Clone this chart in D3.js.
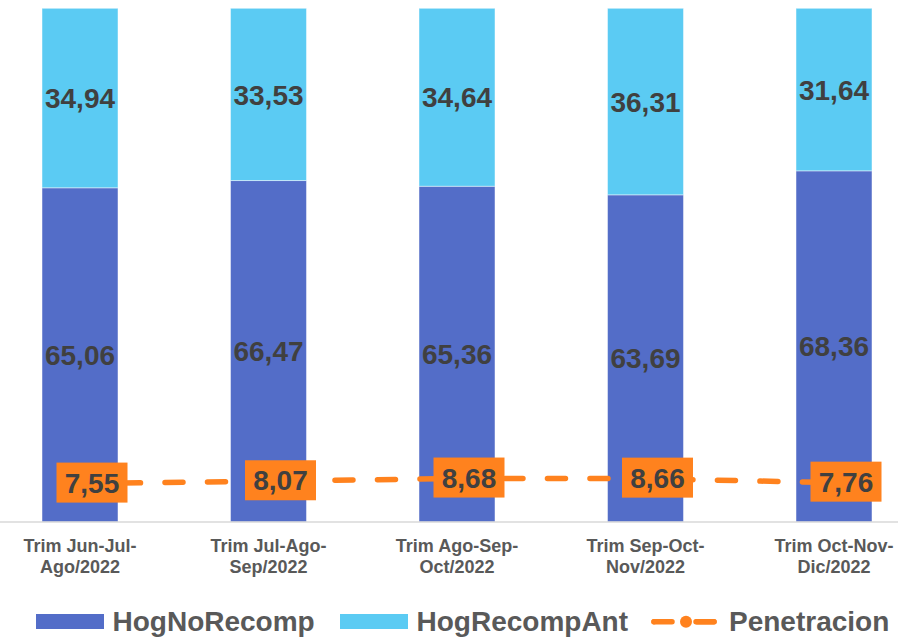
<!DOCTYPE html>
<html>
<head>
<meta charset="utf-8">
<script src="https://cdn.jsdelivr.net/npm/d3@7"></script>
<style>
  body { margin: 0; background: #fff; }
  svg { display: block; font-family: "Liberation Sans", Arial, sans-serif; }
</style>
</head>
<body>
<svg id="chart" width="898" height="637"></svg>
<script>
// data
const categories = [
  ["Trim Jun-Jul-", "Ago/2022"],
  ["Trim Jul-Ago-", "Sep/2022"],
  ["Trim Ago-Sep-", "Oct/2022"],
  ["Trim Sep-Oct-", "Nov/2022"],
  ["Trim Oct-Nov-", "Dic/2022"]
];
const hogNoRecomp = [65.06, 66.47, 65.36, 63.69, 68.36];
const hogRecompAnt = [34.94, 33.53, 34.64, 36.31, 31.64];
const penetracion = [7.55, 8.07, 8.68, 8.66, 7.76];

const colNo = "#536DC8";
const colAnt = "#5BCBF3";
const colPen = "#FF821E";

const svg = d3.select("#chart");
const baseY = 522, topY = 8.3;

// scales
const x = d3.scaleBand()
  .domain(d3.range(categories.length))
  .range([-14.25, 928.25])
  .paddingInner(0.597)
  .paddingOuter(0.2985);

const y = d3.scaleLinear().domain([0, 100]).range([baseY, topY]);
// secondary axis for the line (hidden)
const y2 = d3.scaleLinear().domain([0, 114]).range([517.3, topY]);

// stacked bars
const rows = categories.map((c, i) => ({ i: i, no: hogNoRecomp[i], ant: hogRecompAnt[i] }));
const stack = d3.stack().keys(["no", "ant"])(rows);
const colors = { no: colNo, ant: colAnt };

stack.forEach(layer => {
  svg.append("g")
    .selectAll("rect")
    .data(layer)
    .enter()
    .append("rect")
    .attr("x", d => x(d.data.i))
    .attr("width", x.bandwidth())
    .attr("y", d => y(d[1]))
    .attr("height", d => y(d[0]) - y(d[1]))
    .attr("fill", colors[layer.key])
    .attr("stroke", "#ffffff")
    .attr("stroke-opacity", 0.45)
    .attr("stroke-width", 1);

  svg.append("g")
    .selectAll("text")
    .data(layer)
    .enter()
    .append("text")
    .attr("x", d => x(d.data.i) + x.bandwidth() / 2)
    .attr("y", d => (y(d[0]) + y(d[1])) / 2)
    .attr("dy", "0.36em")
    .attr("text-anchor", "middle")
    .attr("font-size", 28)
    .attr("font-weight", "bold")
    .attr("fill", "#404040")
    .text(d => (d[1] - d[0]).toFixed(2).replace(".", ","));
});

// category axis line
svg.append("line")
  .attr("x1", 0).attr("x2", 898)
  .attr("y1", baseY).attr("y2", baseY)
  .attr("stroke", "#D9D9D9")
  .attr("stroke-width", 1.5);

// category labels
const catG = svg.append("g");
categories.forEach((lines, i) => {
  const t = catG.append("text")
    .attr("x", x(i) + x.bandwidth() / 2)
    .attr("y", 552)
    .attr("text-anchor", "middle")
    .attr("font-size", 18)
    .attr("font-weight", "bold")
    .attr("fill", "#595959");
  lines.forEach((l, k) => {
    t.append("tspan")
      .attr("x", x(i) + x.bandwidth() / 2)
      .attr("dy", k === 0 ? 0 : 20.5)
      .text(l);
  });
});

// penetracion line
const line = d3.line()
  .x((d, i) => x(i) + x.bandwidth() / 2)
  .y(d => y2(d));

svg.append("path")
  .datum(penetracion)
  .attr("d", line)
  .attr("fill", "none")
  .attr("stroke", colPen)
  .attr("stroke-width", 5.5)
  .attr("stroke-linecap", "round")
  .attr("stroke-dasharray", "18,24.5");

// label boxes, nudged right of the point like in the original
const lab = svg.append("g")
  .selectAll("g")
  .data(penetracion)
  .enter()
  .append("g")
  .attr("transform", (d, i) => `translate(${x(i) + x.bandwidth() / 2 + 12},${y2(d) - 1})`);

lab.append("rect")
  .attr("x", -35.5)
  .attr("y", -20)
  .attr("width", 71)
  .attr("height", 40)
  .attr("fill", colPen);

lab.append("text")
  .attr("text-anchor", "middle")
  .attr("dy", "0.36em")
  .attr("font-size", 28)
  .attr("font-weight", "bold")
  .attr("fill", "#404040")
  .text(d => d.toFixed(2).replace(".", ","));

// legend
const leg = svg.append("g").attr("font-size", 28).attr("font-weight", "bold").attr("fill", "#595959");
leg.append("rect").attr("x", 36).attr("y", 614).attr("width", 68).attr("height", 15).attr("fill", colNo);
leg.append("text").attr("x", 112.5).attr("y", 631).text("HogNoRecomp");
leg.append("rect").attr("x", 340).attr("y", 614).attr("width", 68).attr("height", 15).attr("fill", colAnt);
leg.append("text").attr("x", 416.5).attr("y", 631).text("HogRecompAnt");
leg.append("line")
  .attr("x1", 654).attr("x2", 714)
  .attr("y1", 621.7).attr("y2", 621.7)
  .attr("stroke", colPen).attr("stroke-width", 5.5)
  .attr("stroke-linecap", "round")
  .attr("stroke-dasharray", "18,24");
leg.append("line")
  .attr("x1", 654).attr("x2", 714)
  .attr("y1", 621.7).attr("y2", 621.7)
  .attr("stroke", colPen).attr("stroke-width", 5.5)
  .attr("stroke-linecap", "round")
  .attr("stroke-dasharray", "0,43,18,10");
leg.append("circle").attr("cx", 686).attr("cy", 621.7).attr("r", 6).attr("fill", colPen);
leg.append("text").attr("x", 729).attr("y", 631).text("Penetracion");
</script>
</body>
</html>
